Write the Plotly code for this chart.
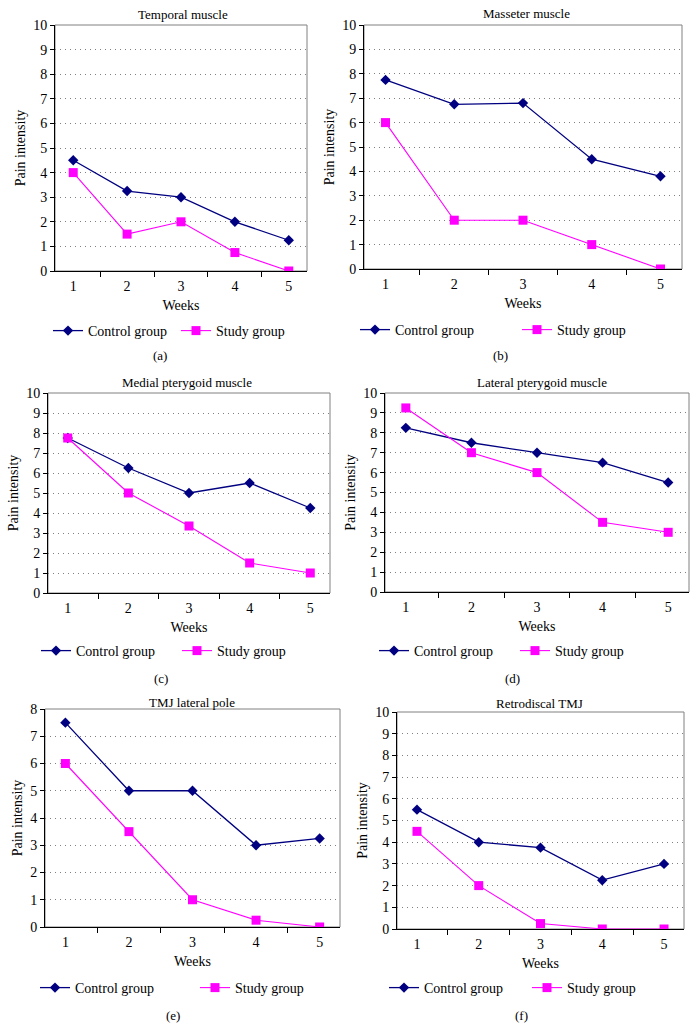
import plotly.graph_objects as go

weeks = ["1", "2", "3", "4", "5"]

titles = ["Temporal muscle", "Masseter muscle", "Medial pterygoid muscle",
          "Lateral pterygoid muscle", "TMJ lateral pole", "Retrodiscal TMJ"]
panel_labels = ["(a)", "(b)", "(c)", "(d)", "(e)", "(f)"]

control_a = [4.5, 3.25, 3.0, 2.0, 1.25]
study_a = [4.0, 1.5, 2.0, 0.75, 0.0]
control_b = [7.75, 6.75, 6.8, 4.5, 3.8]
study_b = [6.0, 2.0, 2.0, 1.0, 0.0]
control_c = [7.75, 6.25, 5.0, 5.5, 4.25]
study_c = [7.75, 5.0, 3.35, 1.5, 1.0]
control_d = [8.25, 7.5, 7.0, 6.5, 5.5]
study_d = [9.25, 7.0, 6.0, 3.5, 3.0]
control_e = [7.5, 5.0, 5.0, 3.0, 3.25]
study_e = [6.0, 3.5, 1.0, 0.25, 0.0]
control_f = [5.5, 4.0, 3.75, 2.25, 3.0]
study_f = [4.5, 2.0, 0.25, 0.0, 0.0]

y_max = [10, 10, 10, 10, 8, 10]

controls = [control_a, control_b, control_c, control_d, control_e, control_f]
studies = [study_a, study_b, study_c, study_d, study_e, study_f]

W, H = 698, 1028
FONT = "Liberation Serif, Times New Roman, serif"
NAVY = "#000080"
MAGENTA = "#FF00FF"

# plot-area boxes in pixels: (left, right, top, bottom)
boxes = [(55, 307, 25, 271), (364, 682, 25, 269), (48, 330, 393, 593),
         (385, 689, 393, 592), (45, 340, 709, 927), (397, 684, 712, 929)]
title_pos = [(183, 15), (526, 14), (187, 382), (542, 382), (192, 702), (539, 703)]
label_pos = [(160, 355), (500, 355), (161, 678), (512, 678), (173, 1015), (521, 1015)]
legend_y = [331, 330, 651, 651, 988, 988]
legend_ctrl_x = [70, 377, 58, 396, 57, 406]
legend_study_x = [198, 539, 199, 537, 217, 549]


def px(x):
    return x / W


def py(y):
    return 1 - y / H


fig = go.Figure()
layout = {}
annotations = []
shapes = []

for i in range(6):
    n = "" if i == 0 else str(i + 1)
    xa, ya = "x" + n, "y" + n
    leg = "legend" + n
    l, r, t, b = boxes[i]
    fig.add_trace(go.Scatter(
        x=weeks, y=controls[i], mode="lines+markers", name="Control group",
        xaxis=xa, yaxis=ya, legend=leg,
        line=dict(color=NAVY, width=1.3),
        marker=dict(symbol="diamond", size=8, color=NAVY)))
    fig.add_trace(go.Scatter(
        x=weeks, y=studies[i], mode="lines+markers", name="Study group",
        xaxis=xa, yaxis=ya, legend=leg,
        line=dict(color=MAGENTA, width=1.1),
        marker=dict(symbol="square", size=9, color=MAGENTA)))

    layout["xaxis" + n] = dict(
        domain=[px(l), px(r)], anchor=ya, type="category",
        tickson="boundaries", ticks="outside", ticklen=5, tickcolor="black",
        showline=True, linecolor="black", linewidth=1, showgrid=False,
        zeroline=False, fixedrange=True, ticklabelstandoff=2,
        tickfont=dict(family=FONT, size=14, color="black"),
        title=dict(text="Weeks", font=dict(family=FONT, size=14, color="black"),
                   standoff=7))
    layout["yaxis" + n] = dict(
        domain=[py(b), py(t)], anchor=xa, range=[0, y_max[i]], dtick=1,
        ticks="outside", ticklen=4, tickcolor="black",
        showline=True, linecolor="black", linewidth=1,
        showgrid=True, gridcolor="#808080", griddash="1px,4px", gridwidth=1,
        zeroline=False, fixedrange=True,
        tickfont=dict(family=FONT, size=14, color="black"),
        title=dict(text="Pain intensity", font=dict(family=FONT, size=14, color="black"),
                   standoff=4))
    shapes.append(dict(type="rect", xref=xa + " domain", yref=ya + " domain",
                       x0=0, x1=1, y0=0, y1=1, layer="below",
                       line=dict(color="#808080", width=1)))
    spacing = legend_study_x[i] - legend_ctrl_x[i]
    layout[leg] = dict(
        orientation="h", x=px(legend_ctrl_x[i] - 22), xanchor="left",
        y=py(legend_y[i]), yanchor="middle", bgcolor="rgba(0,0,0,0)",
        entrywidth=spacing - 45, entrywidthmode="pixels",
        font=dict(family=FONT, size=14, color="black"), traceorder="normal")
    tx, ty = title_pos[i]
    annotations.append(dict(text=titles[i], x=px(tx), y=py(ty), xref="paper", yref="paper",
                            showarrow=False, xanchor="center", yanchor="middle",
                            font=dict(family=FONT, size=13, color="black")))
    lx, ly = label_pos[i]
    annotations.append(dict(text=panel_labels[i], x=px(lx), y=py(ly), xref="paper", yref="paper",
                            showarrow=False, xanchor="center", yanchor="middle",
                            font=dict(family=FONT, size=13, color="black")))

fig.update_layout(
    width=W, height=H, margin=dict(l=0, r=0, t=0, b=0, autoexpand=False),
    paper_bgcolor="white", plot_bgcolor="white", hovermode=False,
    annotations=annotations, shapes=shapes, **layout)

fig.write_html("out.html", config={"displayModeBar": False, "staticPlot": False},
               post_script="document.body.style.margin='0px';document.body.style.overflow='hidden';")
